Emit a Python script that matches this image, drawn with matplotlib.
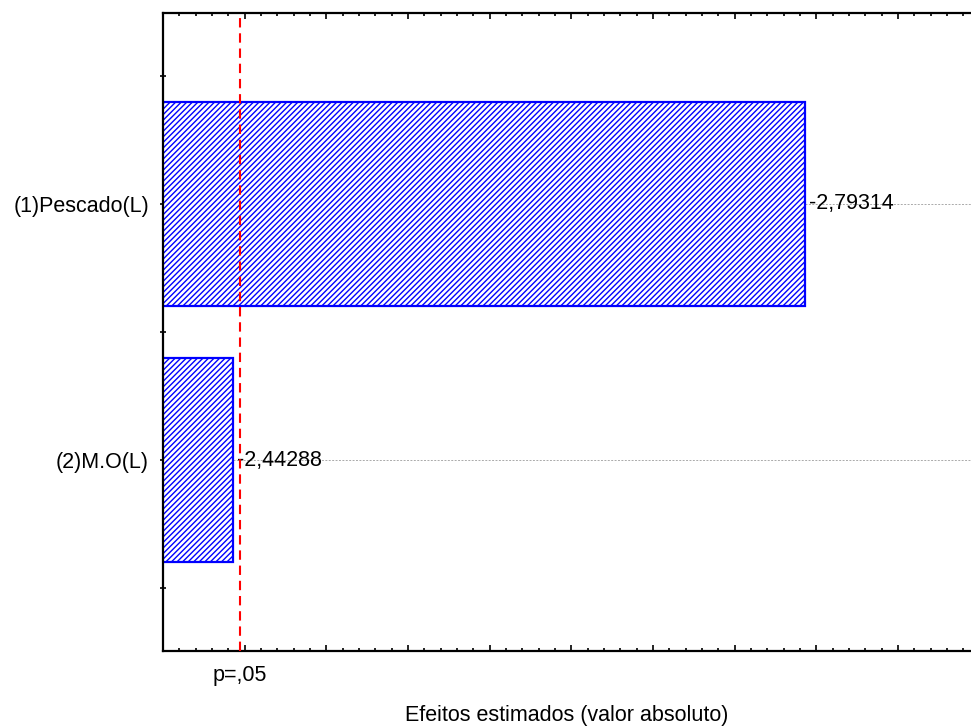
import numpy as np
import matplotlib
matplotlib.use("Agg")
import matplotlib.pyplot as plt
from matplotlib.ticker import MultipleLocator, FixedLocator, NullFormatter
from matplotlib.transforms import blended_transform_factory

plt.rcParams['font.family'] = ['Liberation Sans', 'DejaVu Sans']
plt.rcParams['hatch.linewidth'] = 1.0
plt.rcParams['hatch.color'] = '#4a4aff'

# effects (Pareto chart)
factors = ['(1)Pescado(L)', '(2)M.O(L)']
effects = [-2.79314, -2.44288]
p_limit = 2.4469
p_label = 'p=,05'
x_label = 'Efeitos estimados (valor absoluto)'

fs = 15.5

fig = plt.figure(figsize=(9.71, 7.27), dpi=100)
ax = fig.add_axes([163/971, 76/727, 1 - 163/971, (651-13)/727])

ypos = np.arange(len(factors))
vals = np.abs(effects)
xmin, xmax = 2.40, 2.8946

ax.barh(ypos, vals, height=0.795, color='white', edgecolor='#0000ff',
        linewidth=1.6, hatch='//////', zorder=2)

for y, v, e in zip(ypos, vals, effects):
    ax.plot([v, xmax], [y, y], color='#aaaaaa', lw=0.7, ls=(0, (2, 1.5)), zorder=1)
    ax.text(v + 0.0025, y, f'{e:.5f}'.replace('.', ','), va='center', ha='left',
            fontsize=fs, zorder=3)

ax.axvline(p_limit, color='#ff0000', lw=1.5, ls=(0, (4.5, 2.8)), zorder=4)

ax.set_xlim(xmin, xmax)
ax.set_ylim(len(factors) - 1 + 0.745, -0.745)

ax.xaxis.set_major_locator(MultipleLocator(0.05))
ax.xaxis.set_minor_locator(MultipleLocator(0.01))
ax.xaxis.set_major_formatter(NullFormatter())
ax.tick_params(axis='x', which='both', direction='in', top=True, bottom=True)
ax.tick_params(axis='x', which='major', length=4, width=1.2)
ax.tick_params(axis='x', which='minor', length=2, width=1.2)

ax.set_yticks(ypos)
ax.set_yticklabels(factors, fontsize=fs)
ax.yaxis.set_minor_locator(FixedLocator(np.arange(-0.5, len(factors), 1.0)))
ax.tick_params(axis='y', which='major', direction='inout', length=4, width=1.2, pad=8)
ax.tick_params(axis='y', which='minor', direction='inout', length=4, width=1.2)

ax.spines['right'].set_visible(False)
for s in ['left', 'top', 'bottom']:
    ax.spines[s].set_linewidth(1.6)

trans = blended_transform_factory(ax.transData, ax.transAxes)
ax.text(p_limit, -0.038, p_label, transform=trans, ha='center', va='center', fontsize=fs)

fig.text(567/971, 1 - 716/727, x_label, ha='center', va='center', fontsize=fs)

fig.savefig('out.png', dpi=100)
